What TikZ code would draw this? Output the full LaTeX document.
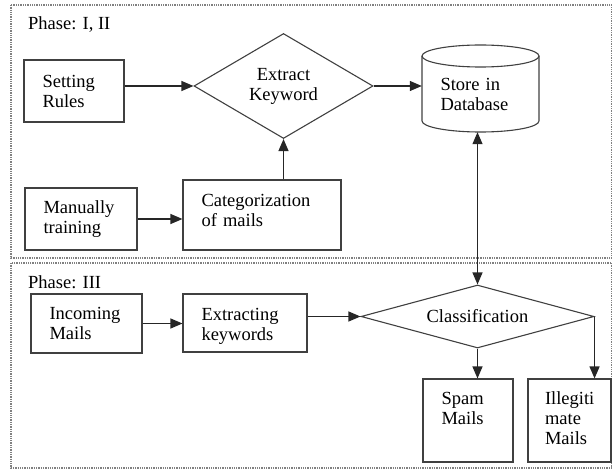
\documentclass[tikz,border=0pt]{standalone}
\usepackage{fontspec}
\setmainfont{Liberation Serif}
\usetikzlibrary{shapes.geometric,arrows.meta}

\tikzset{
  procbox/.style={draw=black!75, line width=1.1pt, rectangle, align=left, inner xsep=18.5pt, inner ysep=0pt},
  decision/.style={draw=black!75, line width=1.1pt, diamond, align=center, inner sep=2pt},
  flow/.style={-{Triangle[length=12pt,width=10pt]}, line width=1.2pt, black!85},
  twoflow/.style={{Triangle[length=12pt,width=10pt]}-{Triangle[length=12pt,width=10pt]}, line width=1.2pt, black!85},
  phaseframe/.style={draw=black!50, line width=1.3pt, densely dotted},
}

\begin{document}
\begin{tikzpicture}[x=1pt, y=-1pt, font=\fontsize{18.5}{20}\selectfont]
        \useasboundingbox (0,0) rectangle (612,470);

        % Frames of the two phases
        \draw[phaseframe] (11,5) rectangle (612,258);
        \draw[phaseframe] (11,263) rectangle (612,468);
        \node[anchor=base west, inner sep=0pt] (phaseA) at (28,30) {Phase: I, II};
        \node[anchor=base west, inner sep=0pt] (phaseB) at (28,288) {Phase: III};

        % Phase I, II
        \node[procbox, text width=63pt, minimum height=62pt] (rules) at (74,91) {Setting\\Rules};
        \node[procbox, text width=75pt, minimum height=62pt] (manual) at (81,219) {Manually\\training};
        \node[procbox, text width=121pt, minimum height=70pt, text depth=30pt] (categ) at (262,215) {Categorization\\of mails};
        \node[decision, minimum width=179pt, minimum height=105pt, shape aspect=1.7] (keyword) at (283.5,86) {Extract\\Keyword};
        \node[align=left, text width=80pt, inner xsep=18.5pt, inner ysep=0pt, minimum height=76pt] (store) at (480.5,94) {Store in\\Database};

        % Database drum
        \draw[draw=black!75, line width=1.1pt] (422,56) -- (422,121)
            arc[start angle=180, end angle=360, x radius=58.5pt, y radius=11pt] -- (539,56);
        \draw[draw=black!75, line width=1.1pt] (480.5,56) ellipse [x radius=58.5pt, y radius=11pt];

        \draw[flow] (rules.east |- keyword.west) -- (keyword.west);
        \draw[flow] (manual.east) -- (manual.east -| categ.west);
        \draw[flow] (keyword.south |- categ.north) -- (keyword.south);
        \draw[flow] (keyword.east) -- (keyword.east -| store.west);

        % Phase III
        \node[procbox, text width=74pt, minimum height=59pt] (incoming) at (86.5,323.5) {Incoming\\Mails};
        \node[procbox, text width=87pt, minimum height=58pt, text depth=18pt] (extracting) at (245,323) {Extracting\\keywords};
        \node[decision, minimum width=233pt, minimum height=63pt, shape aspect=3.7] (classify) at (477.5,316.5) {Classification};
        \node[procbox, text width=53pt, minimum height=83pt, text depth=45pt] (spam) at (468,420.5) {Spam\\Mails};
        \node[procbox, text width=49pt, inner xsep=17pt, minimum height=83pt, text depth=45pt] (illegit) at (569.5,420.5) {Illegiti\\mate\\Mails};

        \draw[flow] (incoming.east) -- (incoming.east -| extracting.west);
        \draw[flow] (extracting.east |- classify.west) -- (classify.west);
        \draw[twoflow] (classify.north |- store.south) -- (classify.north);
        \draw[flow] (classify.south) -- (classify.south |- spam.north);
        \draw[flow] (classify.east) -- (classify.east |- illegit.north);
    \end{tikzpicture}
\end{document}
